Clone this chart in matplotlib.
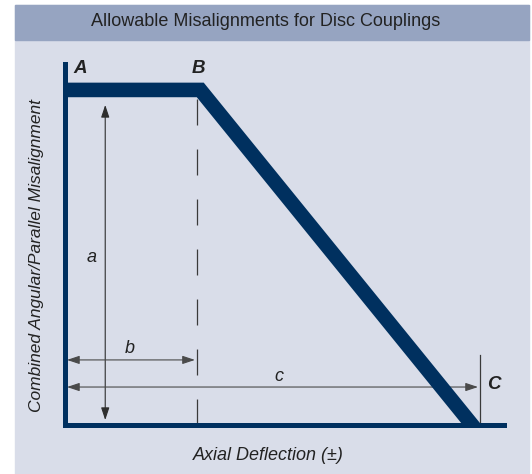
import matplotlib.pyplot as plt
from matplotlib.patches import Rectangle

plt.rcParams['font.family'] = ['Liberation Sans', 'DejaVu Sans']
plt.rcParams['lines.scale_dashes'] = False

# envelope of allowable misalignment (deflection in units of b, misalignment in units of a)
deflection = [0.0, 1.0, 3.0]
misalignment = [1.0, 1.0, 0.0]
point_labels = ['A', 'B', 'C']

# dimension lines
a_dim = 1.0
b_dim = 0.975
c_dim = 3.06
dim_labels = ['a', 'b', 'c']

title = 'Allowable Misalignments for Disc Couplings'
xlabel = 'Axial Deflection (±)'
ylabel = 'Combined Angular/Parallel Misalignment'

navy = '#00305f'
ink = '#3a3a3a'
header_col = '#96a4c1'
panel_col = '#d9dde9'

W, H = 532, 474
fig = plt.figure(figsize=(W / 100, H / 100), dpi=100)
fig.patch.set_facecolor('white')

# panel + header band
fig.patches.append(Rectangle((15 / W, 0), 514 / W, 469 / H, transform=fig.transFigure,
                             color=panel_col, zorder=-2))
fig.patches.append(Rectangle((15 / W, (H - 40) / H), 514 / W, 35 / H, transform=fig.transFigure,
                             color=header_col, zorder=-1))
fig.text(266 / W, (H - 22) / H, title, ha='center', va='center', fontsize=13, color='#222222')

ax = fig.add_axes([64.5 / W, 49.5 / H, 440 / W, 361 / H])
ax.set_facecolor('none')
ax.set_xlim(0, 3.241)
ax.set_ylim(0, 1.079)
ax.set_xticks([])
ax.set_yticks([])
for s in ['top', 'right']:
    ax.spines[s].set_visible(False)
for s in ['left', 'bottom']:
    ax.spines[s].set_color(navy)
    ax.spines[s].set_linewidth(3.6)
    ax.spines[s].set_zorder(5)

# dashed line below B
ax.plot([b_dim, b_dim], [0, misalignment[1]], color=ink, lw=0.9,
        linestyle=(0, (18.7, 17.3)), zorder=2)

# envelope
ax.plot(deflection, misalignment, color=navy, lw=10.5, solid_joinstyle='miter',
        solid_capstyle='projecting', zorder=4)

# C tick
ax.plot([c_dim, c_dim], [0, 0.208], color=ink, lw=0.9, zorder=2)

arrow = dict(arrowstyle='<|-|>,head_length=0.75,head_width=0.25', lw=0.8,
             mutation_scale=10)

a_x, b_y, c_y = 0.30, 0.193, 0.112
ax.annotate('', xy=(a_x, a_dim), xytext=(a_x, 0),
            arrowprops=dict(arrow, color='#2e2e2e', shrinkA=3.2, shrinkB=10.8), zorder=3)
ax.annotate('', xy=(b_dim, b_y), xytext=(0, b_y),
            arrowprops=dict(arrow, color='#4a4a4a', shrinkA=1.8, shrinkB=1.4), zorder=3)
ax.annotate('', xy=(c_dim, c_y), xytext=(0, c_y),
            arrowprops=dict(arrow, color='#4a4a4a', shrinkA=1.8, shrinkB=1.4), zorder=3)

# dimension letters
dim_txt = dict(style='italic', fontsize=13, ha='center', va='center', color='#222222')
ax.text(0.203, 0.50, dim_labels[0], **dim_txt)
ax.text(0.483, 0.227, dim_labels[1], **dim_txt)
ax.text(1.577, 0.143, dim_labels[2], **dim_txt)

# point letters
lbl = dict(fontsize=13.5, fontweight='bold', style='italic', ha='center', va='center', color='#222222')
ax.text(deflection[0] + 0.112, 1.065, point_labels[0], **lbl)
ax.text(deflection[1] - 0.017, 1.065, point_labels[1], **lbl)
ax.text(c_dim + 0.104, 0.121, point_labels[2], **lbl)

fig.text(268 / W, (H - 456) / H, xlabel, style='italic', fontsize=13, ha='center', va='center', color='#222222')
fig.text(37 / W, (H - 255) / H, ylabel, style='italic', fontsize=12.5, rotation=90,
         ha='center', va='center', color='#222222')

fig.savefig('out.png', dpi=100)
